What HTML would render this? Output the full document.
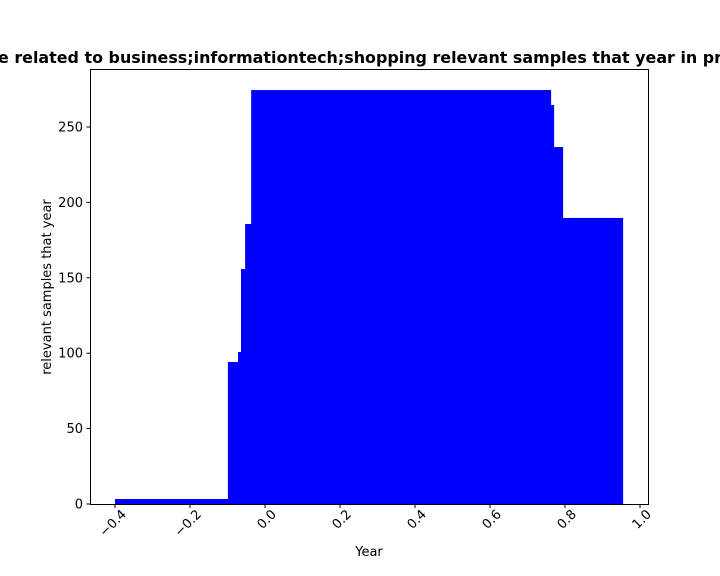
<!DOCTYPE html>
<html><head><meta charset="utf-8"><style>body{margin:0;background:#fff}svg{display:block;font-family:"DejaVu Sans","Liberation Sans",sans-serif}</style></head>
<body>
<svg id="chart" width="720" height="576">
<text x="-2" y="63" font-size="16" font-weight="bold" textLength="724" lengthAdjust="spacingAndGlyphs">e related to business;informationtech;shopping relevant samples that year in pr</text>
<g id="bars"></g>
<rect x="90.5" y="69.5" width="558" height="435" fill="none" stroke="#000" stroke-width="1"/>
<g id="axes" font-size="13"></g>
<text x="369" y="556" font-size="13" text-anchor="middle">Year</text>
<text transform="translate(51,287) rotate(-90)" font-size="13" text-anchor="middle">relevant samples that year</text>
</svg>
<script>
const xCenters=[0,0.301,0.328,0.336,0.347,0.363,0.371,0.395,0.555];
const heights=[3.3,94.2,100.8,155.8,185.7,274.5,264.6,236.7,189.7];
const barWidth=0.8;
const xTicks=[-0.4,-0.2,0.0,0.2,0.4,0.6,0.8,1.0];
const xTickLabels=["\u22120.4","\u22120.2","0.0","0.2","0.4","0.6","0.8","1.0"];
const yTicks=[0,50,100,150,200,250];
const NS="http://www.w3.org/2000/svg";
const X=v=>265+v*375;
const Y=v=>504-v*1.508;
const bars=document.getElementById('bars');
xCenters.forEach((c,i)=>{
  const r=document.createElementNS(NS,'rect');
  r.setAttribute('x',X(c-barWidth/2));r.setAttribute('width',barWidth*375);
  r.setAttribute('y',Y(heights[i]));r.setAttribute('height',504-Y(heights[i]));
  r.setAttribute('fill','#0000ff');
  
  
  bars.appendChild(r);
});
const ax=document.getElementById('axes');
xTicks.forEach((t,i)=>{
  const x=X(t);
  const l=document.createElementNS(NS,'line');
  l.setAttribute('x1',x);l.setAttribute('x2',x);l.setAttribute('y1',504.5);l.setAttribute('y2',508);l.setAttribute('stroke','#000');
  
  
  ax.appendChild(l);
  const tx=document.createElementNS(NS,'text');
  tx.setAttribute('transform',`translate(${x+12},${515}) rotate(-45)`);
  tx.setAttribute('text-anchor','end');
  tx.textContent=xTickLabels[i];
  
  
  ax.appendChild(tx);
});
yTicks.forEach(t=>{
  const y=Y(t);
  const l=document.createElementNS(NS,'line');
  l.setAttribute('x1',86.5);l.setAttribute('x2',90.5);l.setAttribute('y1',y);l.setAttribute('y2',y);l.setAttribute('stroke','#000');
  
  
  ax.appendChild(l);
  const tx=document.createElementNS(NS,'text');
  tx.setAttribute('x',83);tx.setAttribute('y',y+4.5);tx.setAttribute('text-anchor','end');
  tx.textContent=t;
  
  
  ax.appendChild(tx);
});
</script>
</body></html>
